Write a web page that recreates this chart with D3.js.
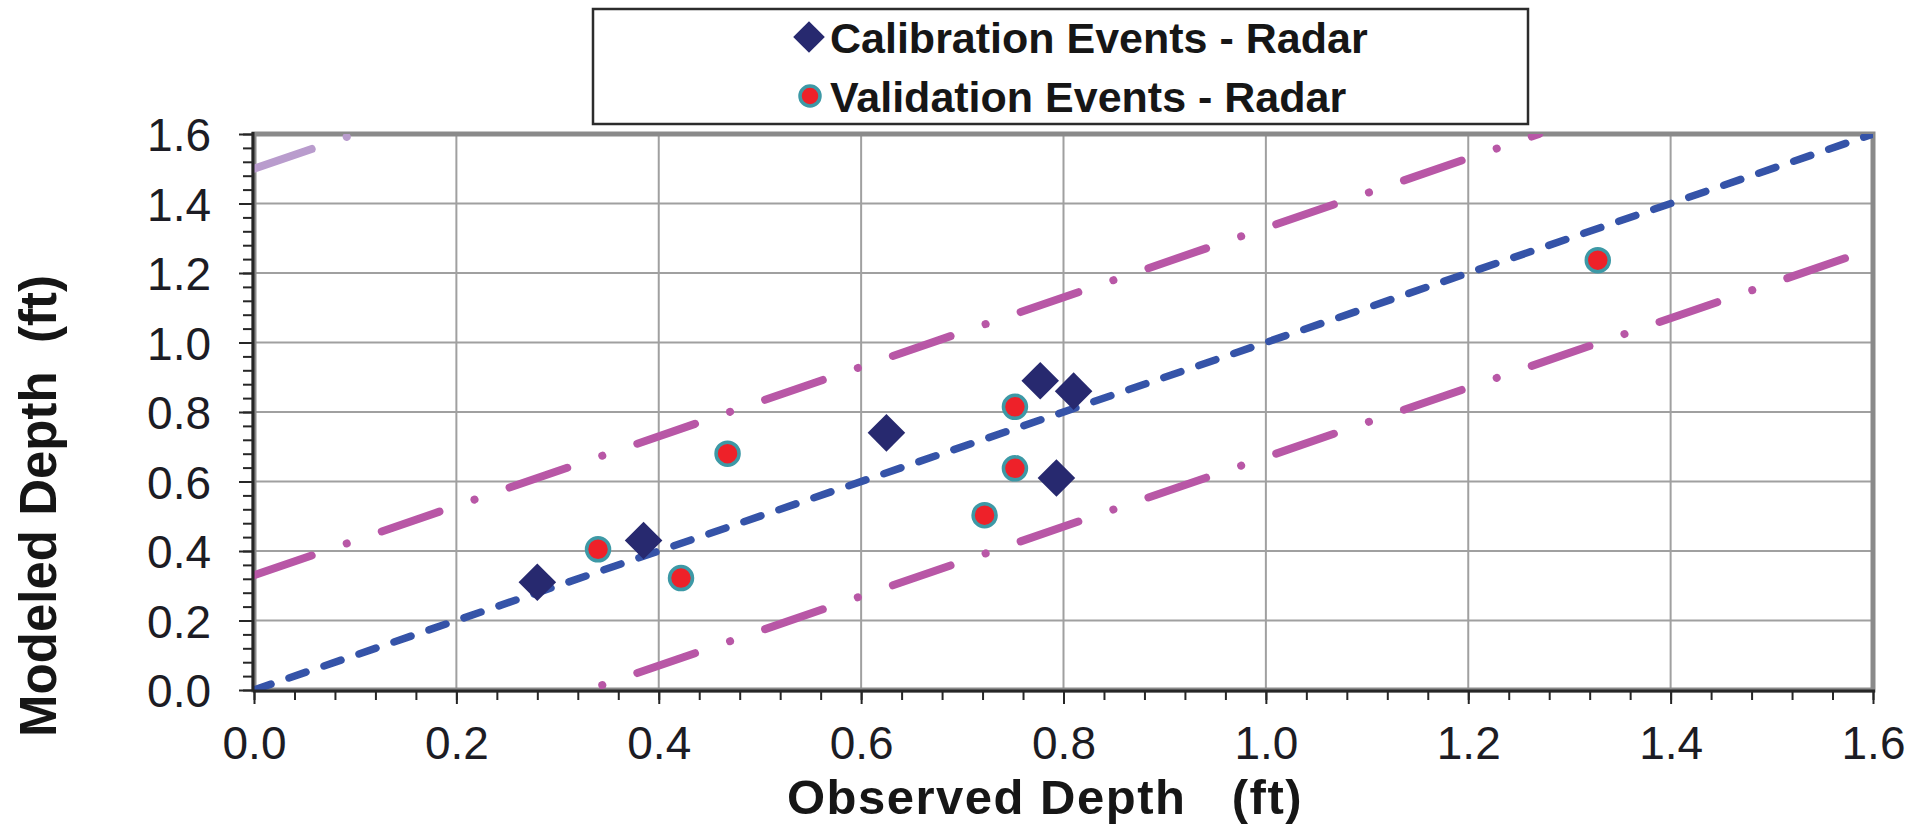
<!DOCTYPE html>
<html>
<head>
<meta charset="utf-8">
<script src="https://cdn.jsdelivr.net/npm/d3@7"></script>
<style>
	body { margin: 0; background: #fff; }
	text { font-family: "Liberation Sans", Arial, sans-serif; }
</style>
</head>
<body>
<div id="dataviz-container"></div>
<script>
// calibration events (navy diamonds)
var calibObserved = [0.28, 0.385, 0.625, 0.777, 0.81, 0.793],
	calibModeled = [0.31, 0.43, 0.74, 0.89, 0.86, 0.61];

// validation events (red circles)
var validObserved = [0.34, 0.422, 0.468, 0.722, 0.752, 0.752, 1.328],
	validModeled = [0.405, 0.322, 0.68, 0.503, 0.638, 0.815, 1.237];

// reference lines, as [observed, modeled] end points
var oneToOne = [[0, 0], [1.6, 1.6]],
	upperLimit = [[0, 0.33], [1.27, 1.6]],
	lowerLimit = [[0, -0.33], [1.6, 1.27]],
	upperLimit2 = [[0, 1.5], [0.1, 1.6]];

var majorTicks = [0, 0.2, 0.4, 0.6, 0.8, 1.0, 1.2, 1.4, 1.6],
	minorTicks = [0, 0.04, 0.08, 0.12, 0.16, 0.2, 0.24, 0.28, 0.32, 0.36, 0.4, 0.44, 0.48, 0.52, 0.56, 0.6,
		0.64, 0.68, 0.72, 0.76, 0.8, 0.84, 0.88, 0.92, 0.96, 1.0, 1.04, 1.08, 1.12, 1.16, 1.2,
		1.24, 1.28, 1.32, 1.36, 1.4, 1.44, 1.48, 1.52, 1.56, 1.6];

var legendLabels = ["Calibration Events - Radar", "Validation Events - Radar"];

var graphWidth = 1913,
	graphHeight = 825,
	margins = {"top": 134, "bottom": 135, "left": 254, "right": 40};

var svg = d3.select("#dataviz-container")
	.append("svg")
	.attr("width", graphWidth)
	.attr("height", graphHeight)

var xScale = d3.scaleLinear()
	.domain([0, 1.6])
	.range([margins.left, graphWidth - margins.right])

var yScale = d3.scaleLinear()
	.domain([0, 1.6])
	.range([graphHeight - margins.bottom, margins.top])

var fmt = d3.format(".1f");

svg.append("clipPath").attr("id", "plotClip")
	.append("rect")
	.attr("x", xScale(0))
	.attr("y", yScale(1.6))
	.attr("width", xScale(1.6) - xScale(0))
	.attr("height", yScale(0) - yScale(1.6))

// grid
var grid = svg.append("g").attr("class", "grid")
grid.selectAll("line.v")
	.data(majorTicks.slice(1, -1))
	.enter().append("line")
	.attr("x1", function(d) { return xScale(d) })
	.attr("x2", function(d) { return xScale(d) })
	.attr("y1", yScale(0))
	.attr("y2", yScale(1.6))
	.style("stroke", "#a0a0a0")
	.style("stroke-width", 2)
grid.selectAll("line.h")
	.data(majorTicks.slice(1, -1))
	.enter().append("line")
	.attr("y1", function(d) { return yScale(d) })
	.attr("y2", function(d) { return yScale(d) })
	.attr("x1", xScale(0))
	.attr("x2", xScale(1.6))
	.style("stroke", "#a0a0a0")
	.style("stroke-width", 2)

// frame
svg.append("rect")
	.attr("x", xScale(0))
	.attr("y", yScale(1.6))
	.attr("width", xScale(1.6) - xScale(0))
	.attr("height", yScale(0) - yScale(1.6))
	.style("fill", "none")
	.style("stroke", "#8a8a8a")
	.style("stroke-width", 5)

// reference lines
var line = d3.line()
	.x(function(d) { return xScale(d[0]) })
	.y(function(d) { return yScale(d[1]) })

var lineGroup = svg.append("g").attr("clip-path", "url(#plotClip)")

lineGroup.append("path")
	.attr("d", line(upperLimit2))
	.style("fill", "none")
	.style("stroke", "#b99ccd")
	.style("stroke-width", 8)
	.style("stroke-linecap", "round")
	.style("stroke-dasharray", "61,37,0.1,37")

lineGroup.selectAll("path.limit")
	.data([upperLimit, lowerLimit])
	.enter().append("path")
	.attr("class", "limit")
	.attr("d", function(d) { return line(d) })
	.style("fill", "none")
	.style("stroke", "#b857a6")
	.style("stroke-width", 8)
	.style("stroke-linecap", "round")
	.style("stroke-dasharray", "61,37,0.1,37")

lineGroup.append("path")
	.attr("d", line(oneToOne))
	.style("fill", "none")
	.style("stroke", "#3553a8")
	.style("stroke-width", 7.5)
	.style("stroke-linecap", "round")
	.style("stroke-dasharray", "18,19")

// axes: dark left and bottom lines
svg.append("line")
	.attr("x1", xScale(0) - 1).attr("x2", xScale(0) - 1)
	.attr("y1", yScale(1.6) - 2).attr("y2", yScale(0) + 1)
	.style("stroke", "#262626").style("stroke-width", 3)
svg.append("line")
	.attr("x1", xScale(0) - 1).attr("x2", xScale(1.6) + 2)
	.attr("y1", yScale(0) + 1).attr("y2", yScale(0) + 1)
	.style("stroke", "#262626").style("stroke-width", 3)

function styleTicks(g) {
	g.select(".domain").remove()
	g.selectAll(".tick line").style("stroke", "#262626").style("stroke-width", 2)
}

svg.append("g")
	.attr("transform", "translate(" + (xScale(0) - 1) + ",0)")
	.call(d3.axisLeft(yScale).tickValues(minorTicks).tickSize(10).tickFormat(""))
	.call(styleTicks)

var yAxis = svg.append("g")
	.attr("transform", "translate(" + (xScale(0) - 1) + ",0)")
	.call(d3.axisLeft(yScale).tickValues(majorTicks).tickSize(14).tickPadding(28).tickFormat(fmt))
	.call(styleTicks)
yAxis.selectAll("text")
	.attr("dy", "0.36em")
	.style("font-size", "46px")
	.style("fill", "#1c1c24")

svg.append("g")
	.attr("transform", "translate(0," + (yScale(0) + 1) + ")")
	.call(d3.axisBottom(xScale).tickValues(minorTicks).tickSize(9).tickFormat(""))
	.call(styleTicks)

var xAxis = svg.append("g")
	.attr("transform", "translate(0," + (yScale(0) + 1) + ")")
	.call(d3.axisBottom(xScale).tickValues(majorTicks).tickSize(13).tickFormat(fmt))
	.call(styleTicks)
xAxis.selectAll("text")
	.attr("y", 68)
	.attr("dy", "0")
	.style("font-size", "46px")
	.style("fill", "#1c1c24")

// axis titles
svg.append("text")
	.text("Observed Depth   (ft)")
	.attr("x", 1045)
	.attr("y", 814)
	.style("text-anchor", "middle")
	.style("font-weight", "bold")
	.style("font-size", "49px")
	.style("letter-spacing", "1.5px")
	.style("fill", "#161616")
	.style("white-space", "pre")

svg.append("text")
	.text("Modeled Depth  (ft)")
	.attr("transform", "translate(56,506) rotate(-90)")
	.style("text-anchor", "middle")
	.style("font-weight", "bold")
	.style("font-size", "51px")
	.style("fill", "#161616")
	.style("white-space", "pre")

// markers
var diamond = d3.symbol().type(d3.symbolDiamond2).size(900)

svg.selectAll("path.calib")
	.data(d3.range(calibObserved.length))
	.enter().append("path")
	.attr("class", "calib")
	.attr("d", diamond)
	.attr("transform", function(i) { return "translate(" + xScale(calibObserved[i]) + "," + yScale(calibModeled[i]) + ")" })
	.style("fill", "#27296f")

svg.selectAll("circle.valid")
	.data(d3.range(validObserved.length))
	.enter().append("circle")
	.attr("class", "valid")
	.attr("cx", function(i) { return xScale(validObserved[i]) })
	.attr("cy", function(i) { return yScale(validModeled[i]) })
	.attr("r", 11.5)
	.style("fill", "#ee2129")
	.style("stroke", "#3d99a6")
	.style("stroke-width", 3.5)

// legend
var legend = svg.append("g")
legend.append("rect")
	.attr("x", 593).attr("y", 9)
	.attr("width", 935).attr("height", 115)
	.style("fill", "#fff")
	.style("stroke", "#2c2c2c")
	.style("stroke-width", 2.5)

legend.append("path")
	.attr("d", d3.symbol().type(d3.symbolDiamond2).size(640))
	.attr("transform", "translate(809,37)")
	.style("fill", "#27296f")
legend.append("circle")
	.attr("cx", 810).attr("cy", 96)
	.attr("r", 10)
	.style("fill", "#ee2129")
	.style("stroke", "#3d99a6")
	.style("stroke-width", 3.5)

legend.selectAll("text")
	.data(legendLabels)
	.enter().append("text")
	.text(function(d) { return d })
	.attr("x", 830)
	.attr("y", function(d, i) { return 53 + i * 59 })
	.style("font-weight", "bold")
	.style("font-size", "43px")
	.style("fill", "#161616")
</script>
</body>
</html>
